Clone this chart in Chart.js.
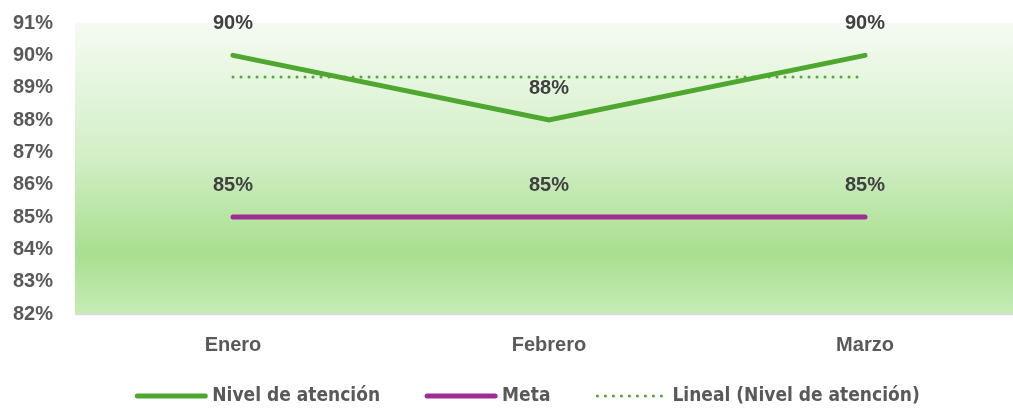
<!DOCTYPE html>
<html>
<head>
<meta charset="utf-8">
<script src="https://cdn.jsdelivr.net/npm/chart.js@4"></script>
<style>
  html, body { margin: 0; padding: 0; background: #fff; overflow: hidden; }
  #wrap { width: 1023px; height: 410px; position: relative; }
</style>
</head>
<body>
<div id="wrap"><canvas id="chart"></canvas></div>
<script>
const meses = ['Enero', 'Febrero', 'Marzo'];
const nivelAtencion = [90, 88, 90];
const meta = [85, 85, 85];
const tendencia = [89.33, 89.33, 89.33];
const ejeMin = 82;
const ejeMax = 91;

// fondo degradado del area de trazado
const fondoPlugin = {
  id: 'fondo',
  beforeDraw(chart) {
    const { ctx, chartArea: a } = chart;
    const g = ctx.createLinearGradient(0, a.top, 0, a.bottom);
    g.addColorStop(0, '#f5fbf2');
    g.addColorStop(0.45, '#d3efc7');
    g.addColorStop(0.79, '#a8df8f');
    g.addColorStop(1, '#c6ebb7');
    ctx.save();
    ctx.fillStyle = g;
    ctx.fillRect(a.left, a.top, a.right - a.left, a.bottom - a.top);
    ctx.strokeStyle = '#d9d9d9';
    ctx.lineWidth = 1.5;
    ctx.beginPath();
    ctx.moveTo(a.left, a.bottom + 0.5);
    ctx.lineTo(a.right, a.bottom + 0.5);
    ctx.stroke();
    ctx.restore();
  }
};

// etiquetas de datos sobre cada punto
const etiquetasPlugin = {
  id: 'etiquetas',
  afterDatasetsDraw(chart) {
    const ctx = chart.ctx;
    ctx.save();
    ctx.font = 'bold 20px "Liberation Sans", Arial, sans-serif';
    ctx.fillStyle = '#404040';
    ctx.textAlign = 'center';
    ctx.textBaseline = 'middle';
    chart.data.datasets.forEach((ds, i) => {
      if (!ds.mostrarEtiquetas) return;
      chart.getDatasetMeta(i).data.forEach((p, j) => {
        ctx.fillText(ds.data[j] + '%', p.x, p.y - 32);
      });
    });
    ctx.restore();
  }
};

// leyenda inferior
const leyendaPlugin = {
  id: 'leyenda',
  afterDraw(chart) {
    const ctx = chart.ctx;
    ctx.save();
    ctx.font = 'bold 19px "Liberation Sans Narrow", "DejaVu Sans Condensed", sans-serif';
    const muestra = 72, gapTexto = 5, gapItem = 45;
    const items = chart.data.datasets.map(ds => ({ ds, w: ctx.measureText(ds.label).width }));
    let total = 0;
    items.forEach((it, i) => { total += muestra + gapTexto + it.w + (i < items.length - 1 ? gapItem : 0); });
    let x = chart.width / 2 + 16 - total / 2;
    const y = 396;
    items.forEach(it => {
      ctx.strokeStyle = it.ds.borderColor;
      ctx.lineCap = 'round';
      if (it.ds.borderDash) {
        ctx.lineWidth = 3;
        ctx.setLineDash([0, 8]);
        ctx.beginPath();
        ctx.moveTo(x + 2, y);
        ctx.lineTo(x + muestra, y);
        ctx.stroke();
        ctx.setLineDash([]);
      } else {
        ctx.lineWidth = 5;
        ctx.beginPath();
        ctx.moveTo(x + 2, y);
        ctx.lineTo(x + muestra - 2, y);
        ctx.stroke();
      }
      x += muestra + gapTexto;
      ctx.fillStyle = '#595959';
      ctx.textBaseline = 'middle';
      ctx.fillText(it.ds.label, x, y);
      x += it.w + gapItem;
    });
    ctx.restore();
  }
};

const ctx = document.getElementById('chart').getContext('2d');
new Chart(ctx, {
  type: 'line',
  data: {
    labels: meses,
    datasets: [
      {
        label: 'Nivel de atención',
        data: nivelAtencion,
        borderColor: '#4ea72e',
        borderWidth: 5,
        borderCapStyle: 'round',
        pointRadius: 0,
        tension: 0,
        mostrarEtiquetas: true,
        order: 1
      },
      {
        label: 'Meta',
        data: meta,
        borderColor: '#a02b93',
        borderWidth: 5,
        borderCapStyle: 'round',
        pointRadius: 0,
        tension: 0,
        mostrarEtiquetas: true,
        order: 2
      },
      {
        label: 'Lineal (Nivel de atención)',
        data: tendencia,
        borderColor: '#4ea72e',
        borderWidth: 3,
        borderDash: [0, 8],
        borderCapStyle: 'round',
        pointRadius: 0,
        tension: 0,
        order: 3
      }
    ]
  },
  options: {
    responsive: true,
    maintainAspectRatio: false,
    animation: false,
    layout: { padding: { top: 23, right: 0, bottom: 0, left: 0 } },
    scales: {
      x: {
        offset: true,
        grid: { display: false, drawTicks: false },
        border: { display: false },
        ticks: {
          padding: 19,
          color: '#595959',
          font: { family: '"Liberation Sans", Arial, sans-serif', size: 20, weight: 'bold' }
        },
        afterFit(scale) { scale.height = 96; }
      },
      y: {
        min: ejeMin,
        max: ejeMax,
        grid: { display: false, drawTicks: false },
        border: { display: false },
        ticks: {
          stepSize: 1,
          padding: 22,
          color: '#595959',
          font: { family: '"Liberation Sans", Arial, sans-serif', size: 20, weight: 'bold' },
          callback: v => v + '%'
        },
        afterFit(scale) {
          scale.width = 75;
          scale.paddingTop = 0;
          scale.paddingBottom = 0;
        }
      }
    },
    plugins: {
      legend: { display: false },
      tooltip: { enabled: false }
    }
  },
  plugins: [fondoPlugin, etiquetasPlugin, leyendaPlugin]
});
</script>
</body>
</html>
